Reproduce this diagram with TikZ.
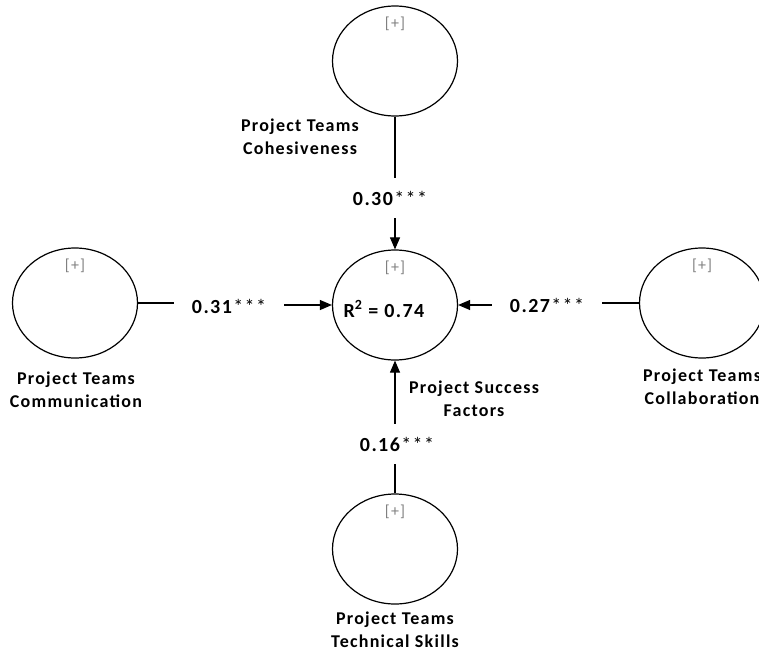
\documentclass[tikz,border=0pt]{standalone}
\usepackage{fontspec}
\setmainfont[LetterSpace=7]{Carlito}
\usetikzlibrary{shapes.geometric,arrows.meta,positioning}

\begin{document}
\begin{tikzpicture}[x=1pt,y=1pt,
        latent/.style={ellipse,draw,line width=1.2pt,minimum width=125pt,minimum height=110pt,inner sep=0pt},
        plus/.style={inner sep=0pt,text=black!50,font=\fontsize{16}{18}\selectfont},
        construct/.style={align=center,inner sep=0pt,font=\fontsize{18}{23}\selectfont\bfseries},
        coef/.style={inner xsep=18pt,inner ysep=13pt,font=\fontsize{20}{24}\selectfont},
        pathline/.style={line width=1.1pt},
        patharrow/.style={line width=1.1pt,-{Triangle[length=12pt,width=10pt]}}]
        \useasboundingbox (0,0) rectangle (759,-653);
        % constructs
        \node[latent] (coh) at (395,-61) {};
        \node[latent] (psf) at (395,-305) {};
        \node[latent] (com) at (75,-303) {};
        \node[latent] (col) at (702,-303) {};
        \node[latent] (tec) at (395,-549) {};
        \node[plus,below=11pt of coh.north] (cohplus) {[+]};
        \node[plus,below=11pt of psf.north] (psfplus) {[+]};
        \node[plus,below=11pt of com.north] (complus) {[+]};
        \node[plus,below=11pt of col.north] (colplus) {[+]};
        \node[plus,below=11pt of tec.north] (tecplus) {[+]};
        \node[font=\fontsize{20}{24}\selectfont\bfseries] (rsq) at (384,-309) {R\textsuperscript{2} = 0.74};
        % names
        \node[construct] (cohname) at (300,-137) {Project Teams\\Cohesiveness};
        \node[construct] (comname) at (76,-390) {Project Teams\\Communication};
        \node[construct] (colname) at (702,-387) {Project Teams\\Collaboration};
        \node[construct] (psfname) at (474,-399) {Project Success\\Factors};
        \node[construct] (tecname) at (395,-630) {Project Teams\\Technical Skills};
        % path coefficients
        \node[coef] (c30) at (390,-198) {\textbf{0.30}***};
        \node[coef] (c31) at (229,-306) {\textbf{0.31}***};
        \node[coef] (c27) at (547,-305) {\textbf{0.27}***};
        \node[coef] (c16) at (397,-444) {\textbf{0.16}***};
        \draw[pathline] (coh.south) -- (coh.south |- c30.north);
        \draw[patharrow] (psf.north |- c30.south) -- (psf.north);
        \draw[pathline] (com.east) -- (com.east -| c31.west);
        \draw[patharrow] (c31.east |- psf.west) -- (psf.west);
        \draw[pathline] (col.west) -- (col.west -| c27.east);
        \draw[patharrow] (c27.west |- psf.east) -- (psf.east);
        \draw[pathline] (tec.north) -- (tec.north |- c16.south);
        \draw[patharrow] (psf.south |- c16.north) -- (psf.south);
\end{tikzpicture}
\end{document}
